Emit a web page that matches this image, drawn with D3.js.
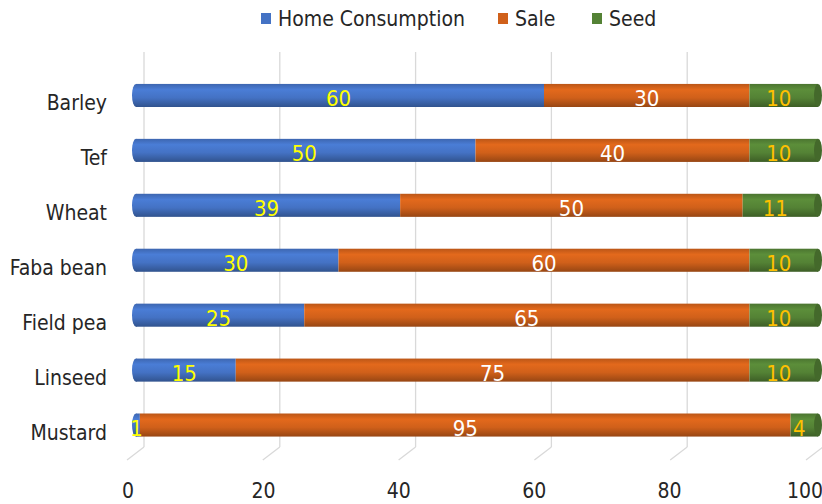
<!DOCTYPE html>
<html>
<head>
<meta charset="utf-8">
<script src="https://cdn.jsdelivr.net/npm/d3@7"></script>
<style>
  body { margin: 0; background: #fff; }
  text { font-family: "DejaVu Sans Condensed", "Liberation Sans Narrow", "Open Sans", sans-serif; }
</style>
</head>
<body>
<div id="chart"></div>
<script>
// data
const CROPS = ["Barley", "Tef", "Wheat", "Faba bean", "Field pea", "Linseed", "Mustard"];
const HOME = [60, 50, 39, 30, 25, 15, 1];
const SALE = [30, 40, 50, 60, 65, 75, 95];
const SEED = [10, 10, 11, 10, 10, 10, 4];
const SERIES = ["Home Consumption", "Sale", "Seed"];
const TICKS = [0, 20, 40, 60, 80, 100];

const WIDTH = 822, HEIGHT = 504;
const COLORS = ["#4472c4", "#d0601a", "#548235"];
const LABEL_COLORS = ["#ffff00", "#ffffff", "#ffc000"];

const svg = d3.select("#chart")
  .append("svg")
    .attr("width", WIDTH)
    .attr("height", HEIGHT);

// scales: front of bars, back wall gridlines, floor tick labels
const xBar = d3.scaleLinear().domain([0, 100]).range([133, 818]);
const xBack = d3.scaleLinear().domain([0, 100]).range([144, 823]);
const xFront = d3.scaleLinear().domain([0, 100]).range([128, 805]);
const y = d3.scaleBand().domain(CROPS).range([68, 452.5]).paddingInner(0.58).paddingOuter(0.29);

// gradients for cylinder look
const defs = svg.append("defs");
COLORS.forEach((c, i) => {
  const g = defs.append("linearGradient")
    .attr("id", "grad" + i)
    .attr("x1", 0).attr("y1", 0).attr("x2", 0).attr("y2", 1);
  const base = d3.color(c);
  g.append("stop").attr("offset", "0%").attr("stop-color", base.darker(0.3));
  g.append("stop").attr("offset", "25%").attr("stop-color", base.brighter(0.25));
  g.append("stop").attr("offset", "60%").attr("stop-color", base);
  g.append("stop").attr("offset", "100%").attr("stop-color", base.darker(0.9));
});

// gridlines + floor lines
const grid = svg.append("g");
grid.selectAll(".grid")
  .data(TICKS)
  .enter()
  .append("line")
    .attr("x1", (d) => xBack(d)).attr("x2", (d) => xBack(d))
    .attr("y1", 52).attr("y2", 447)
    .attr("stroke", "#d9d9d9").attr("stroke-width", 1.3);
grid.selectAll(".floor")
  .data(TICKS)
  .enter()
  .append("line")
    .attr("x1", (d) => xBack(d)).attr("y1", 447)
    .attr("x2", (d) => xBack(d) - 17).attr("y2", 460)
    .attr("stroke", "#d9d9d9").attr("stroke-width", 1.3);

// tick labels
svg.selectAll(".tick-label")
  .data(TICKS)
  .enter()
  .append("text")
    .attr("x", (d) => xFront(d))
    .attr("y", 498)
    .attr("text-anchor", "middle")
    .attr("font-size", 21)
    .attr("fill", "#262626")
    .text((d) => d);

// category labels
svg.selectAll(".cat-label")
  .data(CROPS)
  .enter()
  .append("text")
    .attr("x", 107)
    .attr("y", (d) => y(d) + y.bandwidth() / 2 + 15)
    .attr("text-anchor", "end")
    .attr("font-size", 21)
    .attr("fill", "#262626")
    .text((d) => d);

// stacked data
const rows = CROPS.map((c, i) => ({crop: c, values: [HOME[i], SALE[i], SEED[i]]}));
const segs = [];
rows.forEach((r) => {
  let acc = 0;
  r.values.forEach((v, k) => {
    segs.push({crop: r.crop, k: k, v: v, x0: acc, x1: acc + v});
    acc += v;
  });
});

const bh = y.bandwidth();
const bars = svg.append("g");

// left rounded end
bars.selectAll(".cap-left")
  .data(rows)
  .enter()
  .append("ellipse")
    .attr("cx", xBar(0) + 3)
    .attr("cy", (d) => y(d.crop) + bh / 2)
    .attr("rx", 4).attr("ry", bh / 2)
    .attr("fill", "url(#grad0)");

bars.selectAll(".seg")
  .data(segs)
  .enter()
  .append("rect")
    .attr("x", (d) => xBar(d.x0) + (d.x0 === 0 ? 3 : 0))
    .attr("y", (d) => y(d.crop))
    .attr("width", (d) => xBar(d.x1) - xBar(d.x0) - (d.x0 === 0 ? 3 : 0))
    .attr("height", bh)
    .attr("fill", (d) => "url(#grad" + d.k + ")");

// right cap
bars.selectAll(".cap-right")
  .data(rows)
  .enter()
  .append("ellipse")
    .attr("cx", xBar(100))
    .attr("cy", (d) => y(d.crop) + bh / 2)
    .attr("rx", 4).attr("ry", bh / 2)
    .attr("fill", d3.color(COLORS[2]).darker(0.6));

// value labels
svg.selectAll(".val")
  .data(segs)
  .enter()
  .append("text")
    .attr("x", (d) => (xBar(d.x0) + xBar(d.x1)) / 2 + (d.k === 2 ? -5 : 0))
    .attr("y", (d) => y(d.crop) + bh / 2 + 10.5)
    .attr("text-anchor", "middle")
    .attr("font-size", 22)
    .attr("fill", (d) => LABEL_COLORS[d.k])
    .text((d) => d.v);

// legend
const legend = svg.append("g");
const LEG_X = [261, 498, 592];
SERIES.forEach((s, i) => {
  legend.append("rect")
    .attr("x", LEG_X[i]).attr("y", 13)
    .attr("width", 10).attr("height", 11)
    .attr("fill", COLORS[i]);
  legend.append("text")
    .attr("x", LEG_X[i] + 17).attr("y", 26)
    .attr("font-size", 21)
    .attr("fill", "#262626")
    .text(s);
});
</script>
</body>
</html>
